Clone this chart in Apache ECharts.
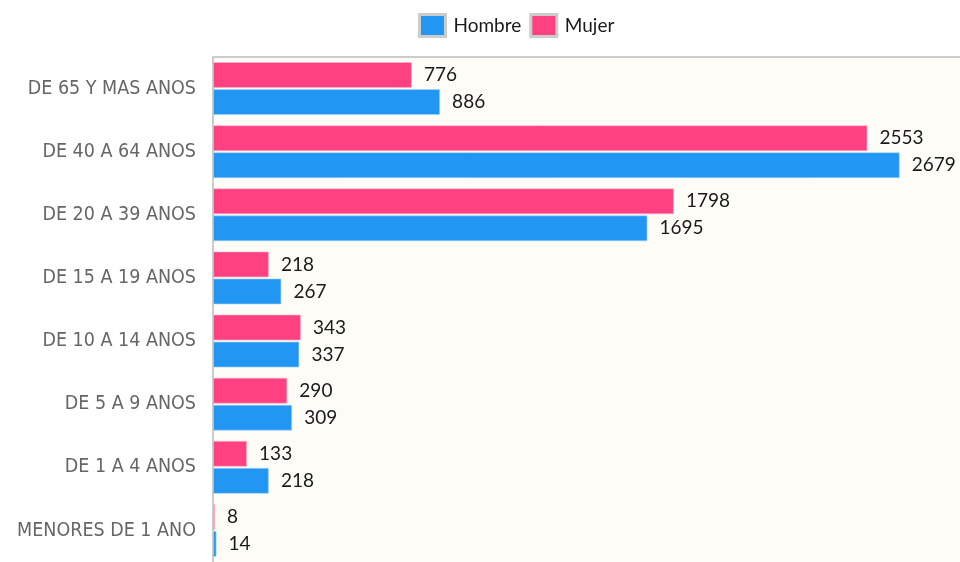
<!DOCTYPE html>
<html>
<head>
<meta charset="utf-8">
<script src="https://cdn.jsdelivr.net/npm/echarts@6/dist/echarts.min.js"></script>
<style>html,body{margin:0;padding:0;background:#fff;}#c{width:960px;height:562px;}</style>
</head>
<body>
<div id="c"></div>
<script>
const categories = ['MENORES DE 1 ANO','DE 1 A 4 ANOS','DE 5 A 9 ANOS','DE 10 A 14 ANOS','DE 15 A 19 ANOS','DE 20 A 39 ANOS','DE 40 A 64 ANOS','DE 65 Y MAS ANOS'];
const hombre = [14, 218, 309, 337, 267, 1695, 2679, 886];
const mujer = [8, 133, 290, 343, 218, 1798, 2553, 776];
const seriesNames = ['Hombre', 'Mujer'];

const chart = echarts.init(document.getElementById('c'));
const labelStyle = {show: true, position: 'right', distance: 12, color: '#1a1a1a', fontFamily: 'Lato', fontSize: 19};
chart.setOption({
  backgroundColor: '#ffffff',
  animation: false,
  legend: {
    left: 413, top: 8,
    itemWidth: 26, itemHeight: 22, itemGap: 8,
    textStyle: {fontFamily: 'Lato', fontSize: 19, color: '#1a1a1a', padding: [0, 0, 0, 3]},
    data: seriesNames.map(n => ({name: n, icon: 'rect', itemStyle: {borderColor: '#cccccc', borderWidth: 3}}))
  },
  grid: {left: 213, right: 0, top: 57, bottom: -2, show: true, backgroundColor: '#fdfcf7', borderWidth: 0},
  xAxis: {
    type: 'value', position: 'top', min: 0, max: 2914,
    axisLine: {show: true, lineStyle: {color: '#cccccc', width: 2}},
    axisTick: {show: false}, axisLabel: {show: false}, splitLine: {show: false}
  },
  yAxis: {
    type: 'category', data: categories,
    axisLine: {show: true, lineStyle: {color: '#cccccc', width: 2}},
    axisTick: {show: false},
    axisLabel: {fontFamily: 'DejaVu Sans Condensed', fontSize: 19.5, color: '#666666', margin: 17}
  },
  series: [
    {name: seriesNames[1], type: 'bar', data: mujer, barWidth: 26, barGap: '4%',
     itemStyle: {color: '#ff4081', borderColor: 'rgba(255,180,205,0.6)', borderWidth: 1}, label: labelStyle},
    {name: seriesNames[0], type: 'bar', data: hombre, barWidth: 26, barGap: '4%',
     itemStyle: {color: '#2196f3', borderColor: 'rgba(170,210,245,0.6)', borderWidth: 1}, label: labelStyle}
  ]
});
</script>
</body>
</html>
